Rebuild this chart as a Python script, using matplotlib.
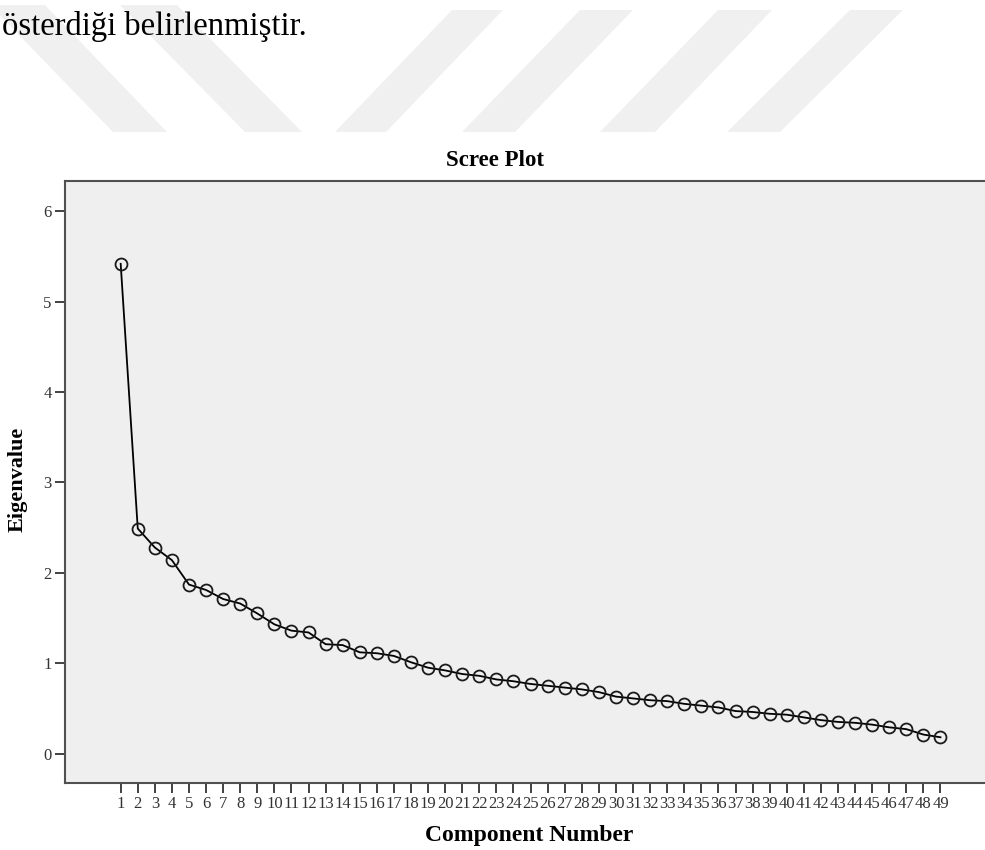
import matplotlib.pyplot as plt
from matplotlib.patches import Polygon

# Eigenvalues
components = list(range(1, 50))
eigenvalues = [5.42, 2.49, 2.28, 2.14, 1.87, 1.81, 1.71, 1.66, 1.55, 1.43,
               1.36, 1.34, 1.21, 1.20, 1.12, 1.11, 1.08, 1.01, 0.95, 0.92,
               0.88, 0.86, 0.82, 0.80, 0.77, 0.75, 0.73, 0.71, 0.68, 0.63,
               0.61, 0.59, 0.58, 0.55, 0.53, 0.51, 0.47, 0.46, 0.44, 0.43,
               0.40, 0.37, 0.35, 0.34, 0.32, 0.29, 0.27, 0.21, 0.18]
y_ticks = [0, 1, 2, 3, 4, 5, 6]

W, H = 985, 850
fig = plt.figure(figsize=(W / 100, H / 100), dpi=100)
serif = ['Liberation Serif', 'DejaVu Serif']

# light watermark stripes behind the page text (pixel coords, top-left origin)
stripes = [
    [(-10, 5), (45, 5), (167, 132), (113, 132)],
    [(120, 5), (177, 5), (302, 132), (245, 132)],
    [(452, 10), (503, 10), (386, 132), (335, 132)],
    [(580, 10), (633, 10), (515, 132), (462, 132)],
    [(718, 10), (772, 10), (655, 132), (600, 132)],
    [(850, 10), (903, 10), (780, 132), (727, 132)],
]
for s in stripes:
    pts = [(x / W, 1 - y / H) for x, y in s]
    fig.patches.append(Polygon(pts, closed=True, transform=fig.transFigure,
                               facecolor='#f0f0f0', edgecolor='none', zorder=0))

fig.text(0.002, 1 - 26 / H, 'österdiği belirlenmiştir.', family=serif,
         fontsize=23.5, ha='left', va='center', color='black')

# axes box: left 65px, top 181px, bottom 783px, runs off the right edge
ax = fig.add_axes([65 / W, (H - 783) / H, (W - 65 + 5) / W, (783 - 181) / H])
ax.set_facecolor('#efefef')

ax.plot(components, eigenvalues, color='black', lw=1.3, marker='o', ms=8.6,
        mfc='none', mec='#1a1a1a', mew=1.3, zorder=3)

ax.set_xlim(-2.26, 51.9)
ax.set_ylim(-0.326, 6.336)
ax.set_xticks(components)
ax.set_xticklabels([str(c) for c in components], family=serif, fontsize=12)
ax.set_yticks(y_ticks)
ax.set_yticklabels([str(v) for v in y_ticks], family=serif, fontsize=12)
ax.tick_params(axis='both', direction='out', length=7.5, width=1.3,
               color='#333333', labelcolor='#333333', pad=2)

for side in ['left', 'top', 'bottom', 'right']:
    ax.spines[side].set_color('#505050')
    ax.spines[side].set_linewidth(1.5)

ax.set_xlabel('Component Number', family=serif, fontsize=17, fontweight='bold')
ax.xaxis.set_label_coords((529 - 65) / 925, (783 - 835) / 602)
ax.xaxis.label.set_va('center')
ax.set_ylabel('Eigenvalue', family=serif, fontsize=16, fontweight='bold')
ax.yaxis.set_label_coords((18 - 65) / 925, (783 - 479) / 602)
ax.yaxis.label.set_va('center')

fig.text(495 / W, 1 - 161 / H, 'Scree Plot', family=serif, fontsize=16.5,
         fontweight='bold', ha='center', va='center')

fig.savefig('out.png', dpi=100)
